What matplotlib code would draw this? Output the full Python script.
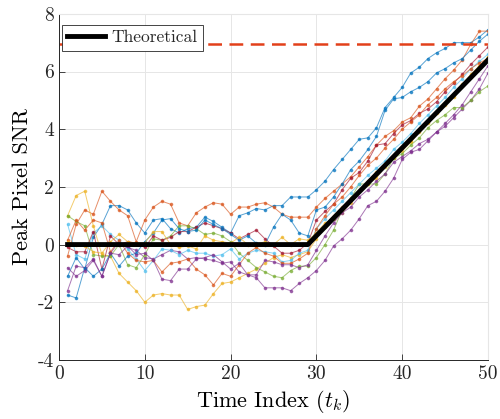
import numpy as np
import matplotlib
matplotlib.use("Agg")
from matplotlib import pyplot as plt

plt.rcParams['font.family'] = 'serif'
plt.rcParams['font.serif'] = ['cmr10']
plt.rcParams['mathtext.fontset'] = 'cm'
plt.rcParams['axes.unicode_minus'] = False

t = np.arange(1, 51)

# theoretical SNR: flat until the target appears, then linear growth
theory_t = [1, 29, 50]
theory_snr = [0, 0, 6.4]
threshold = 6.95

# individual runs (t = 1..50)
run_blue1 = [-1.1, -0.45, -0.85, 0.25, 0.7, 1.35, 1.35, 1.2, 0.75, 0.4,
             0.85, 0.9, 0.55, 0.4, 0.55, 0.6, 0.95, 0.8, 0.6, 0.4,
             1.0, 1.1, 1.25, 1.2, 1.35, 1.35, 1.65, 1.65, 1.65,
             1.9, 2.2, 2.6, 2.95, 3.3, 3.65, 3.7, 4.05, 4.75, 5.1, 5.45,
             5.95, 6.15, 6.45, 6.65, 6.8, 7.0, 7.0, 7.0, 7.2, 7.45]
run_blue2 = [-1.75, -1.85, -0.8, -1.1, -0.85, -0.3, -0.75, -0.4, -0.3, 0.1,
             0.4, 0.85, 0.9, 0.55, 0.45, 0.5, 0.85, 0.7, 0.55, 0.35,
             0.15, 0.3, 0.05, 0.0, 0.6, 1.05, 0.85, 0.4, 0.3,
             1.2, 1.3, 1.65, 2.1, 2.6, 2.9, 3.3, 3.75, 4.65, 5.05, 5.1,
             5.3, 5.45, 5.65, 5.95, 6.1, 6.3, 6.45, 6.75, 7.05, 7.3]
run_orange1 = [-0.4, 0.7, 1.2, 1.05, 1.85, 1.5, 1.2, 1.0, 0.1, 0.85,
               1.3, 1.5, 1.4, 0.75, 0.65, 1.1, 1.3, 1.45, 1.4, 1.05,
               1.3, 1.3, 1.4, 1.45, 1.3, 1.05, 0.95, 0.95, 0.95,
               1.3, 1.6, 1.85, 2.1, 2.35, 2.7, 3.05, 3.45, 3.75, 3.95, 4.25,
               4.4, 4.8, 5.05, 5.4, 5.75, 6.05, 6.4, 6.95, 7.4, 7.4]
run_yellow1 = [1.0, 1.7, 1.85, 0.65, -0.35, -0.4, -1.0, -1.3, -1.6, -2.0,
               -1.75, -1.7, -1.75, -1.75, -2.25, -2.15, -2.1, -1.7, -1.35, -1.3,
               -1.15, -1.0, -0.85, -0.65, -0.45, -0.35, -0.45, -0.35, -0.25,
               0.2, 0.6, 1.0, 1.3, 1.6, 1.85, 2.2, 2.5, 2.75, 3.0, 3.25,
               3.55, 3.9, 4.25, 4.55, 4.9, 5.2, 5.55, 5.9, 6.2, 6.5]
run_purple1 = [-1.6, -0.75, -0.8, -0.5, -1.1, -0.3, 0.1, -0.1, -0.2, -0.45,
               -0.5, -0.35, -0.2, -0.25, -0.5, -0.45, -0.5, -0.55, -0.65, -0.6,
               -0.95, -1.05, -1.15, -1.5, -1.5, -1.5, -1.6, -1.35, -1.15,
               -0.9, -0.55, -0.05, 0.2, 0.5, 0.9, 1.35, 1.5, 1.85, 2.3, 2.95,
               3.2, 3.3, 3.6, 3.9, 4.1, 4.4, 4.7, 5.0, 5.4, 5.95]
run_green1 = [1.0, 0.8, 0.65, -0.35, -0.4, -0.4, 0.0, -0.7, -0.8, -0.35,
              0.2, 0.15, 0.3, 0.65, 0.65, 0.55, 0.35, 0.4, 0.3, 0.1,
              -0.3, -0.55, -0.8, -0.95, -1.1, -1.15, -0.9, -0.75, -0.75,
              -0.45, 0.0, 0.5, 1.2, 1.6, 2.1, 2.1, 2.1, 2.45, 3.0, 3.15,
              3.45, 3.7, 4.05, 4.3, 4.5, 4.75, 4.75, 5.0, 5.3, 5.5]
run_lightblue = [0.7, -0.35, -0.5, 0.4, 0.65, 0.35, 0.15, -0.15, -0.5, -0.9,
                 -0.55, -0.15, -0.2, -0.35, -0.2, -0.3, -0.3, -0.4, -0.35, -0.15,
                 -0.5, -0.3, -0.2, -0.25, -0.3, -0.6, -0.55, -0.3, -0.2,
                 0.55, 0.9, 1.2, 1.5, 1.8, 2.1, 2.4, 2.65, 2.9, 3.3, 3.55,
                 3.85, 4.2, 4.5, 4.8, 5.1, 5.45, 5.75, 6.1, 6.35, 6.6]
run_darkred = [-0.1, -0.25, -0.25, 0.45, -0.85, 0.3, 0.0, 0.1, 0.05, -0.1,
               0.3, 0.15, 0.25, 0.45, 0.45, 0.6, 0.75, 0.65, 0.55, 0.4,
               0.2, 0.35, 0.5, 0.2, -0.05, -0.3, -0.3, -0.2, 0.05,
               0.85, 1.15, 1.4, 1.9, 2.3, 2.5, 2.9, 3.45, 3.5, 3.85, 4.15,
               4.3, 4.55, 4.7, 4.95, 5.3, 5.6, 5.9, 6.25, 6.55, 6.85]
run_orange2 = [0.15, 0.85, 0.5, 0.85, 0.75, -0.25, 0.15, -0.3, -0.55, -0.6,
               -0.55, -0.95, -0.65, -0.6, -0.5, -0.85, -1.05, -1.4, -1.0, -1.1,
               -0.7, -0.3, -0.1, -0.3, -0.4, -0.65, -0.65, -0.5, -0.3,
               0.55, 1.0, 1.4, 1.65, 2.0, 2.4, 2.75, 3.0, 3.35, 3.65, 4.0,
               4.25, 4.5, 4.85, 5.1, 5.4, 5.65, 5.85, 6.1, 6.3, 6.45]
run_yellow2 = [0.1, 0.0, -0.05, -0.25, -0.3, 0.1, 0.35, 0.1, 0.05, 0.05,
               0.45, 0.45, 0.0, -0.1, -0.05, -0.15, 0.3, 0.15, 0.1, 0.05,
               0.25, 0.0, 0.0, 0.1, 0.0, 0.25, 0.0, 0.2, 0.15,
               0.4, 0.75, 0.9, 1.1, 1.45, 1.85, 2.1, 2.3, 2.7, 3.05, 3.35,
               3.6, 3.95, 4.2, 4.6, 4.85, 5.1, 5.5, 5.8, 6.15, 6.5]
run_purple2 = [-0.8, -1.1, -0.9, -0.55, -1.1, -0.3, -0.35, -0.05, -0.35, -0.3,
               -0.55, -1.2, -1.25, -0.85, -0.85, -0.5, -0.45, -0.35, -0.6, -0.85,
               -0.65, -1.05, -1.05, -0.55, -0.6, -0.7, -0.7, -0.8, -0.7,
               -0.2, 0.3, 0.75, 1.1, 1.3, 1.65, 1.9, 2.2, 2.45, 2.85, 3.05,
               3.25, 3.5, 3.65, 3.9, 4.2, 4.5, 4.85, 5.3, 5.75, 6.2]

runs = [run_blue1, run_orange1, run_yellow1, run_purple1, run_green1,
        run_lightblue, run_darkred, run_blue2, run_orange2, run_yellow2,
        run_purple2]
run_colors = ['#0072BD', '#D95319', '#EDB120', '#7E2F8E', '#77AC30',
              '#4DBEEE', '#A2142F', '#0072BD', '#D95319', '#EDB120',
              '#7E2F8E']

fig = plt.figure(figsize=(5, 4.19), dpi=100)
ax = fig.add_axes([0.118, 0.141, 0.858, 0.826])

for y, c in zip(runs, run_colors):
    ax.plot(t, y, '.-', color=c, lw=0.7, ms=3.2, alpha=0.65)

ax.plot([0, 50], [threshold, threshold], '--', color='#E2401A', lw=1.8,
        dashes=(5.5, 3))
ax.plot(theory_t, theory_snr, 'k-', lw=3.5, label='Theoretical')

ax.set_xlim(0, 50)
ax.set_ylim(-4, 8)
ax.set_xticks(range(0, 51, 10))
ax.set_yticks(range(-4, 9, 2))
ax.grid(True, color='#e6e6e6', lw=0.7)
ax.set_axisbelow(True)
ax.tick_params(direction='in', length=4, labelsize=14, width=0.6,
               colors='#262626')
for s in ['top', 'right']:
    ax.spines[s].set_color('#e6e6e6')
for s in ['left', 'bottom']:
    ax.spines[s].set_color('#262626')
    ax.spines[s].set_linewidth(0.7)

ax.set_xlabel(r'Time Index ($t_k$)', fontsize=16)
ax.set_ylabel('Peak Pixel SNR', fontsize=16)

leg = ax.legend(loc='upper left', bbox_to_anchor=(0.007, 0.968),
                fontsize=12.5, fancybox=False, edgecolor='#262626',
                handlelength=2.2, borderpad=0.3, handletextpad=0.35,
                borderaxespad=0, framealpha=1)
leg.get_frame().set_linewidth(0.6)
for txt in leg.get_texts():
    txt.set_color('#262626')

fig.savefig('out.png', dpi=100)
